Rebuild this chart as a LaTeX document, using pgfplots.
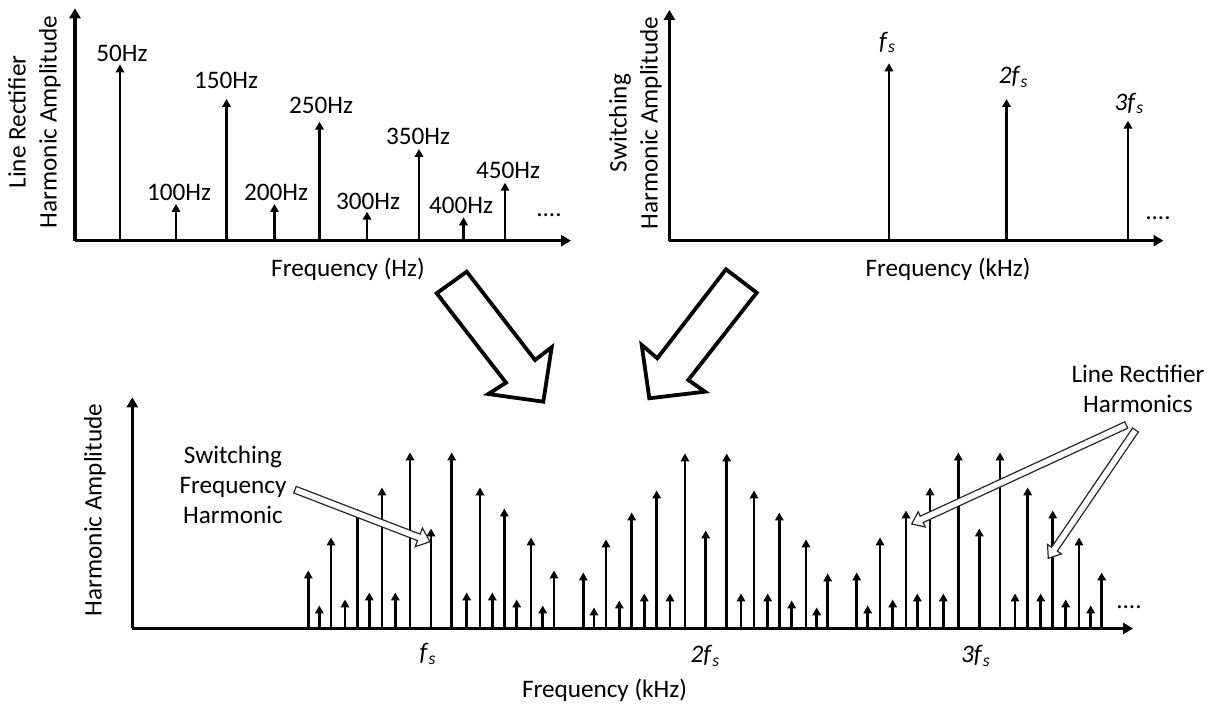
\documentclass[border=0pt]{standalone}
\usepackage{pgfplots}
\pgfplotsset{compat=1.18}
\usepackage{fontspec}
\setmainfont{Carlito}
\usetikzlibrary{calc,arrows.meta}

\newcommand{\fs}[1]{\textit{#1f}\textsubscript{\textit{s}}}

\pgfplotsset{
  stemchart/.style={
    x=0.5pt, y=0.5pt, anchor=south west,
    axis lines=left,
    axis line style={line width=1.6pt, -{Triangle[width=5.5pt,length=5pt]}},
    xtick=\empty, ytick=\empty,
    clip=false, ymin=0,
  },
  stems/.style={quiver={u=0,v=\thisrow{h}}, black, line width=1.45pt,
    -{Triangle[width=4.2pt,length=4pt]}},
}

% hollow arrow: tail, tip, shaft half width, head half width, head length
\newcommand{\hollowarrow}[6][]{%
  \coordinate (haA) at (#2); \coordinate (haB) at (#3);
  \coordinate (haC) at ($(haB)!#6!(haA)$);
  \draw[black!85, line width=0.6pt, fill=white, line join=miter, #1]
    ($(haA)!#4!90:(haB)$) -- ($(haC)!#4!-90:(haA)$) -- ($(haC)!#5!-90:(haA)$)
    -- (haB) -- ($(haC)!#5!90:(haA)$) -- ($(haC)!#4!90:(haA)$)
    -- ($(haA)!#4!-90:(haB)$) -- cycle;
}

\begin{document}
\fontsize{12.6}{15}\selectfont
\begin{tikzpicture}[font=\fontsize{12.6}{15}\selectfont]
\useasboundingbox (0,0) rectangle (606pt,352.5pt);

% ---------------- top-left: line rectifier harmonics ----------------
\begin{axis}[stemchart, at={(37.5pt,232.15pt)}, xmin=75, xmax=571, ymax=232.4]
\addplot[stems] table[x=x,y=y] {
x y h
120.0 0 176.4
176.0 0 36.7
226.5 0 141.7
274.5 0 36.7
319.5 0 119.0
367.0 0 29.0
419.0 0 91.7
463.5 0 23.4
505.0 0 58.0
};
\node at (axis cs:122,187.7) {50Hz};
\node at (axis cs:179,48.7) {100Hz};
\node at (axis cs:226,160) {150Hz};
\node at (axis cs:276,48.7) {200Hz};
\node at (axis cs:321,135.7) {250Hz};
\node at (axis cs:368,39) {300Hz};
\node at (axis cs:418,104) {350Hz};
\node at (axis cs:461,35) {400Hz};
\node at (axis cs:508,70.7) {450Hz};
\node[anchor=base] at (axis cs:549,23.7) {....};
\node[rotate=90, align=center, font=\fontsize{12.6}{15.5}\selectfont] at (axis cs:34.5,118.7) {Line Rectifier\\Harmonic Amplitude};
\node at (axis cs:348,-29) {Frequency (Hz)};
\end{axis}

% ---------------- top-right: switching harmonics ----------------
\begin{axis}[stemchart, at={(334.7pt,232.15pt)}, xmin=669.4, xmax=1163.5, ymax=230.7]
\addplot[stems] table[x=x,y=y] {
x y h
889.0 0 177.4
1006.5 0 141.7
1128.0 0 120.0
};
\node at (axis cs:887.5,198.2) {\fs{}};
\node at (axis cs:1013.7,163.7) {\fs{2}};
\node at (axis cs:1129.4,137.4) {\fs{3}};
\node[anchor=base] at (axis cs:1158,20.7) {....};
\node[rotate=90, align=center, font=\fontsize{12.6}{15.5}\selectfont] at (axis cs:635.3,117.7) {Switching\\Harmonic Amplitude};
\node at (axis cs:948,-28.5) {Frequency (kHz)};
\end{axis}

% ---------------- bottom: combined spectrum ----------------
\begin{axis}[stemchart, at={(66.15pt,38.25pt)}, xmin=132.3, xmax=1133, ymax=231.2]
\addplot[stems] table[x=x,y=y] {
x y h
308.3 0 58
319.3 0 23
331.0 0 91
345.0 0 29
357.7 0 120
369.3 0 36
382.0 0 141
395.3 0 36
410.0 0 176
431.0 0 100
451.7 0 176
466.7 0 36
480.0 0 141
492.3 0 36
504.3 0 120
516.7 0 29
531.0 0 91
542.7 0 23
554.0 0 58
583.3 0 56
594.0 0 21
606.0 0 89
619.3 0 28
631.7 0 116
644.3 0 35
656.7 0 138
670.0 0 35
685.0 0 175
705.7 0 98
726.7 0 175
741.0 0 35
754.0 0 138
767.7 0 35
779.3 0 116
791.7 0 28
806.0 0 89
816.7 0 21
827.7 0 55
856.7 0 56
867.7 0 23
880.0 0 91
892.7 0 29
906.0 0 118
917.3 0 35
930.0 0 141
943.3 0 35
958.3 0 176
979.3 0 100
1000.0 0 176
1015.0 0 35
1027.7 0 141
1040.7 0 35
1052.7 0 118
1065.7 0 29
1079.0 0 91
1090.7 0 23
1101.7 0 56
};
\node at (axis cs:428,-25.5) {\fs{}};
\node at (axis cs:705.5,-27.5) {\fs{2}};
\node at (axis cs:976,-27.5) {\fs{3}};
\node[anchor=base] at (axis cs:1129,19.5) {....};
\node[rotate=90] at (axis cs:95,118.5) {Harmonic Amplitude};
\node at (axis cs:604.5,-61.5) {Frequency (kHz)};
\end{axis}

% ---------------- annotations (pixel coordinates, y down) ----------------
\begin{scope}[x=0.5pt, y=-0.5pt, yshift=352.5pt]
  % big hollow arrows
  \draw[line width=1.9pt, fill=white, line join=miter]
    (436.7,293.3) -- (466.7,271.7) -- (535,360) -- (551.7,347.3)
    -- (543.3,401.7) -- (488.3,394) -- (506,382.7) -- cycle;
  \draw[line width=1.9pt, fill=white, line join=miter]
    (726,269.3) -- (756.7,292.7) -- (688.3,380) -- (705,391.7)
    -- (649.3,398.3) -- (641.7,345) -- (657.3,358.3) -- cycle;
  % callouts
  \node[align=center] at (233,485) {Switching\\Frequency\\Harmonic};
  \hollowarrow{295,489.7}{430,541.7}{1.75pt}{5pt}{6pt}
  \node[align=center] at (1138,388.5) {Line Rectifier\\Harmonics};
  \hollowarrow{1126.3,425}{911.7,524}{1.75pt}{4.2pt}{5.5pt}
  \hollowarrow{1135.5,430}{1048.3,558.3}{1.75pt}{4.2pt}{5.5pt}
\end{scope}
\end{tikzpicture}
\end{document}
